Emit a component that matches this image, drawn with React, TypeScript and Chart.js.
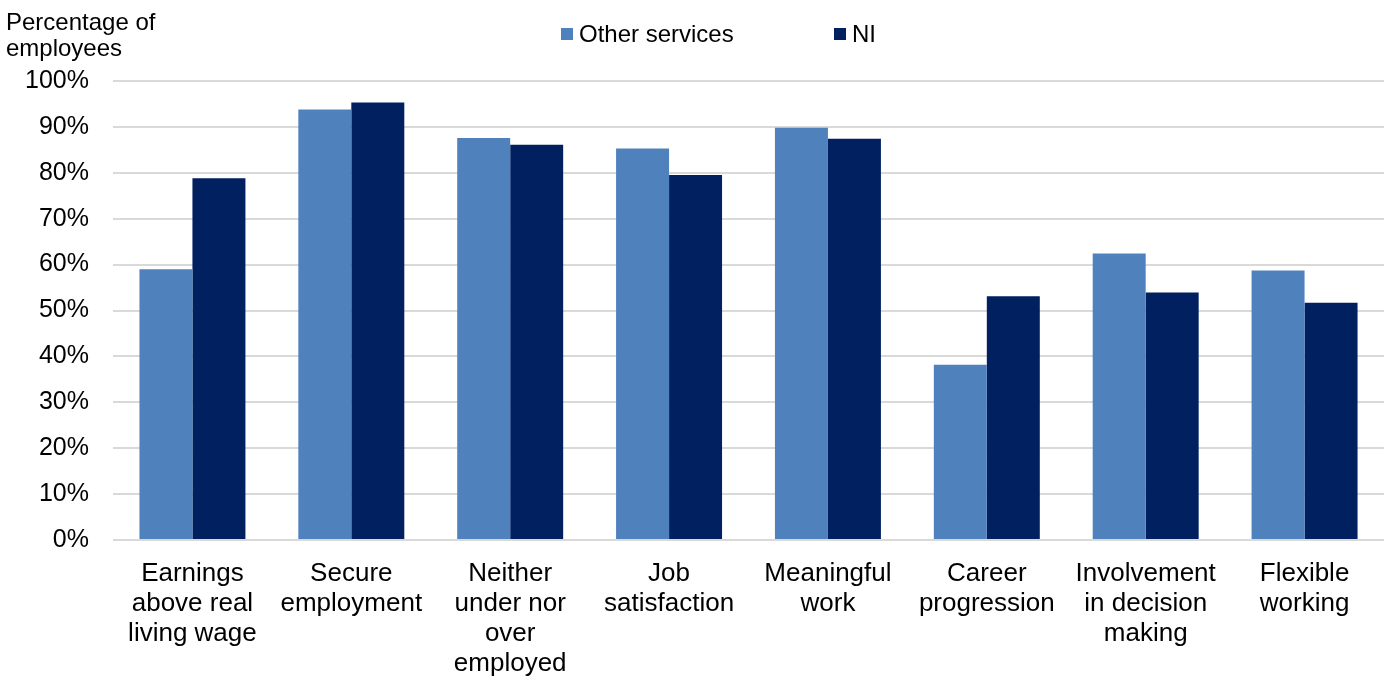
import React, { useEffect, useRef } from "react";
import { Chart, registerables } from "chart.js";

Chart.register(...registerables);

const categories: string[][] = [
  ["Earnings", "above real", "living wage"],
  ["Secure", "employment"],
  ["Neither", "under nor", "over", "employed"],
  ["Job", "satisfaction"],
  ["Meaningful", "work"],
  ["Career", "progression"],
  ["Involvement", "in decision", "making"],
  ["Flexible", "working"],
];
const otherServices = [59.0, 93.8, 87.6, 85.3, 89.8, 38.2, 62.4, 58.7];
const niValues = [78.8, 95.3, 86.1, 79.5, 87.4, 53.1, 53.9, 51.7];
const seriesNames = ["Other services", "NI"];
const seriesColors = ["#4F81BD", "#002060"];
const axisTitle = ["Percentage of", "employees"];
const yTicks = [0, 10, 20, 30, 40, 50, 60, 70, 80, 90, 100];

const FONT = '"Liberation Sans", Arial, Helvetica, sans-serif';

const overlayPlugin = {
  id: "overlay",
  afterDraw(chart: any) {
    const ctx = chart.ctx;
    ctx.save();
    ctx.fillStyle = "#000";
    ctx.textAlign = "left";
    ctx.textBaseline = "alphabetic";
    ctx.font = `24px ${FONT}`;
    ctx.fillText(axisTitle[0], 6, 30);
    ctx.fillText(axisTitle[1], 6, 56);

    // legend
    const legendX = [561, 834];
    ctx.font = `24px ${FONT}`;
    seriesNames.forEach((name, i) => {
      ctx.fillStyle = seriesColors[i];
      ctx.fillRect(legendX[i], 28, 12, 12);
      ctx.fillStyle = "#000";
      ctx.fillText(name, legendX[i] + 18, 42);
    });
    ctx.restore();
  },
};

export default function App() {
  const canvasRef = useRef<HTMLCanvasElement | null>(null);

  useEffect(() => {
    if (!canvasRef.current) return;
    const chart = new Chart(canvasRef.current, {
      type: "bar",
      data: {
        labels: categories,
        datasets: [
          {
            label: seriesNames[0],
            data: otherServices,
            backgroundColor: seriesColors[0],
            borderWidth: 0,
            categoryPercentage: 0.667,
            barPercentage: 1,
          },
          {
            label: seriesNames[1],
            data: niValues,
            backgroundColor: seriesColors[1],
            borderWidth: 0,
            categoryPercentage: 0.667,
            barPercentage: 1,
          },
        ],
      },
      options: {
        responsive: false,
        animation: false,
        layout: { padding: { top: 81, right: 4, left: 0, bottom: 0 } },
        plugins: {
          legend: { display: false },
          title: { display: false },
          tooltip: { enabled: false },
        },
        scales: {
          x: {
            grid: { display: false, drawTicks: false },
            border: { display: false },
            ticks: {
              color: "#000",
              font: { family: FONT, size: 26, lineHeight: "30px" },
              padding: 19,
              maxRotation: 0,
              minRotation: 0,
              autoSkip: false,
            },
            afterFit(scale: any) {
              scale.height = 137;
            },
          },
          y: {
            min: 0,
            max: 100,
            afterBuildTicks(scale: any) {
              scale.ticks = yTicks.map((v) => ({ value: v }));
            },
            grid: { color: "#D9D9D9", lineWidth: 2, drawTicks: false },
            border: { display: false },
            ticks: {
              color: "#000",
              font: { family: FONT, size: 25 },
              padding: 24,
              callback: (v: any) => `${v}%`,
            },
            afterFit(scale: any) {
              scale.width = 113;
            },
          },
        },
      },
      plugins: [overlayPlugin],
    });
    return () => chart.destroy();
  }, []);

  return (
    <div style={{ position: "absolute", left: 0, top: 0, width: 1388, height: 677, background: "#fff" }}>
      <canvas ref={canvasRef} width={1388} height={677} style={{ display: "block" }} />
    </div>
  );
}
